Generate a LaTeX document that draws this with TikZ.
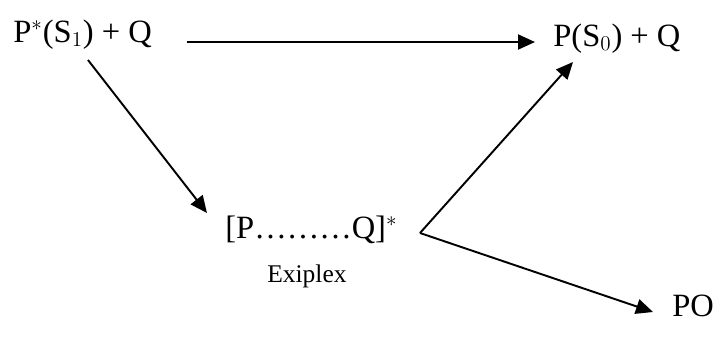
\documentclass[tikz,border=0pt]{standalone}
\usepackage{fontspec}
\setmainfont{Liberation Serif}
\usepackage{tikz}
\usetikzlibrary{arrows.meta,calc}

\begin{document}
\begin{tikzpicture}[
  x=0.02cm,y=-0.02cm,
  font=\fontsize{18.5}{22}\selectfont,
  species/.style={inner sep=0pt,anchor=base west},
  label/.style={species,font=\fontsize{14.5}{17}\selectfont},
  arr/.style={-{Triangle[length=0.34cm,width=0.3cm]},line width=1.1pt}]
  \useasboundingbox (0,0) rectangle (719,336);
  % species
  \node[species] (react) at (13,42) {P$^{*}$(S$_1$) + Q};
  \node[species] (prod) at (553,46) {P(S$_0$) + Q};
  \node[species] (exc) at (225,238) {[P\dots\dots\dots Q]$^{*}$};
  \node[label] (name) at (267,282) {Exiplex};
  \node[species] (po) at (672,316) {PO};
  \coordinate (vtx) at (420,233);
  % arrows
  \draw[arr] ([shift={(174,0)}]react.base west) -- ([shift={(-18,-4)}]prod.base west);
  \draw[arr] ([shift={(75,18)}]react.base west) -- ([shift={(-18,-25)}]exc.base west);
  \draw[arr] (vtx) -- ([shift={(20,16)}]prod.base west);
  \draw[arr] (vtx) -- ([shift={(-19,-4)}]po.base west);
\end{tikzpicture}
\end{document}
